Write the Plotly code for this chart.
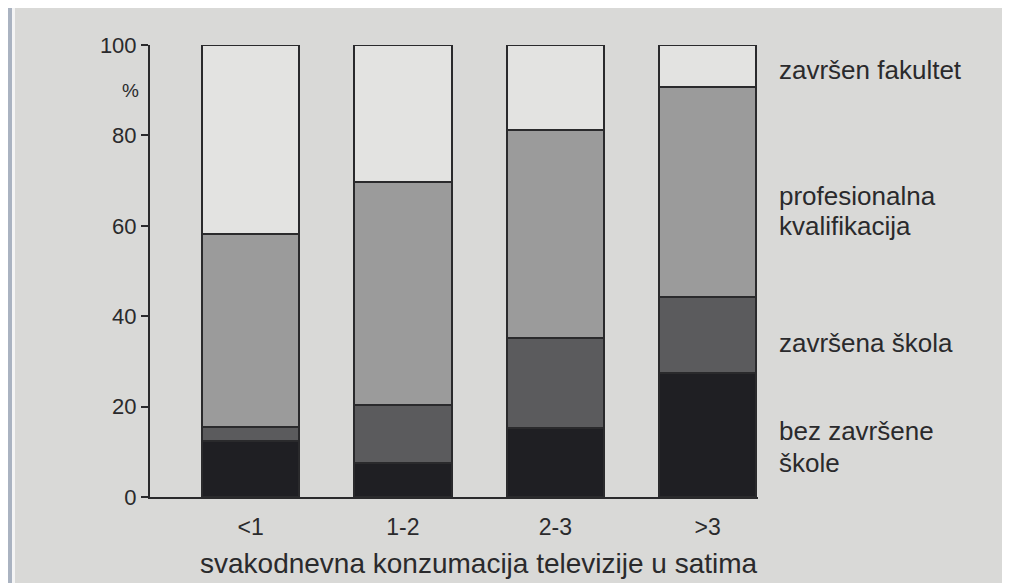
import plotly.graph_objects as go

# hours of TV per day
categories = ["<1", "1-2", "2-3", ">3"]
x_pos = [0, 1, 2, 3]

# stacked shares in %, bottom to top
bez_zavrsene = [12.4, 7.5, 15.3, 27.4]
zavrsena_skola = [3.1, 12.9, 19.9, 16.8]
profesionalna = [42.7, 49.3, 46.0, 46.5]
fakultet = [41.8, 30.3, 18.8, 9.3]

y_ticks = [0, 20, 40, 60, 80, 100]

# right-hand labels, one entry per printed line
label_lines = ["završen fakultet", "profesionalna", "kvalifikacija",
               "završena škola", "bez završene", "škole"]
label_y = [94.5, 66.6, 59.9, 34.1, 14.5, 7.6]

font = "Liberation Sans, Arial, sans-serif"
ink = "#2a2a2c"
paper = "#d9d9d7"

series = [
    (bez_zavrsene, "#1f1f23"),
    (zavrsena_skola, "#5b5b5d"),
    (profesionalna, "#9b9b9b"),
    (fakultet, "#e3e3e1"),
]

W, H = 1002, 575
ML, MR, MT, MB = 142, 252, 37, 86
PW, PH = W - ML - MR, H - MT - MB

fig = go.Figure()
for vals, col in series:
    fig.add_trace(go.Bar(
        x=x_pos, y=vals, width=0.64,
        marker=dict(color=col, line=dict(color=ink, width=2)),
        cliponaxis=False, showlegend=False,
    ))

for txt, yv in zip(label_lines, label_y):
    fig.add_annotation(
        x=(769 - ML) / PW, y=yv, xref="paper", yref="y", text=txt, showarrow=False,
        xanchor="left", yanchor="middle", align="left",
        font=dict(family=font, size=26, color=ink),
    )

fig.add_annotation(
    x=(122 - ML) / PW, y=90, xref="paper", yref="y", text="%", showarrow=False,
    xanchor="center", font=dict(family=font, size=19, color=ink),
)

fig.add_annotation(
    x=1.5, y=(PH + MT - 555) / PH, xref="x", yref="paper",
    text="svakodnevna konzumacija televizije u satima",
    showarrow=False, yanchor="middle",
    font=dict(family=font, size=28, color=ink),
)

# left edge strip of the photo
fig.add_shape(type="rect", xref="paper", yref="paper",
              x0=-ML / PW, x1=(4 - ML) / PW, y0=-MB / PH, y1=1 + MT / PH,
              fillcolor="#aab3c1", line_width=0, layer="below")
fig.add_shape(type="rect", xref="paper", yref="paper",
              x0=(4 - ML) / PW, x1=(7 - ML) / PW, y0=-MB / PH, y1=1 + MT / PH,
              fillcolor="#f4f4f4", line_width=0, layer="below")

fig.update_layout(
    width=W, height=H,
    margin=dict(l=ML, r=MR, t=MT, b=MB),
    paper_bgcolor=paper, plot_bgcolor=paper,
    barmode="stack",
    font=dict(family=font, color=ink),
    xaxis=dict(
        range=[-0.66, 3.33], tickvals=x_pos, ticktext=categories,
        showgrid=False, zeroline=False, showline=True, linecolor=ink, linewidth=2,
        ticks="", ticklabelstandoff=8, tickfont=dict(size=23, color=ink),
    ),
    yaxis=dict(
        range=[0, 100], tickvals=y_ticks, showgrid=False, zeroline=False,
        showline=True, linecolor=ink, linewidth=2,
        ticks="outside", ticklen=7, tickwidth=2, tickcolor=ink,
        tickfont=dict(size=22, color=ink),
    ),
)

fig.write_html("out.html")
